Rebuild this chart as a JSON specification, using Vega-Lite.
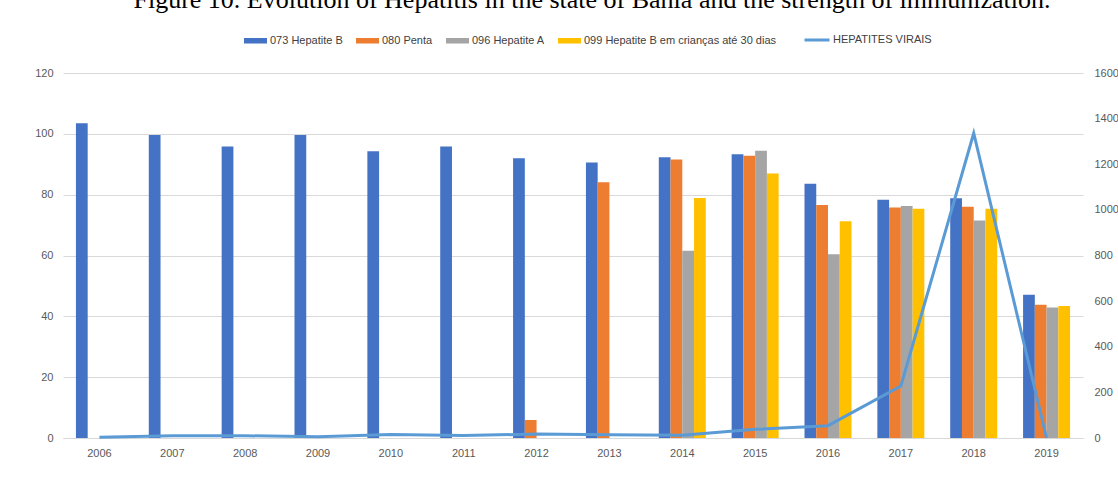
{
  "$schema": "https://vega.github.io/schema/vega-lite/v6.json",
  "width": 1020,
  "height": 365,
  "autosize": {"type": "none"},
  "padding": {"left": 63, "top": 73, "right": 35, "bottom": 47},
  "background": "white",
  "title": {
    "text": "Figure 10. Evolution of Hepatitis in the state of Bahia and the strength of immunization.",
    "font": "Liberation Serif",
    "fontSize": 26,
    "fontWeight": "normal",
    "color": "#000000",
    "anchor": "middle",
    "baseline": "alphabetic",
    "offset": -8,
    "dx": 19
  },
  "datasets": {
    "bars": [
      {"year": "2006", "series": "073 Hepatite B", "value": 103.5},
      {"year": "2007", "series": "073 Hepatite B", "value": 99.6},
      {"year": "2008", "series": "073 Hepatite B", "value": 95.8},
      {"year": "2009", "series": "073 Hepatite B", "value": 99.6},
      {"year": "2010", "series": "073 Hepatite B", "value": 94.3},
      {"year": "2011", "series": "073 Hepatite B", "value": 95.8},
      {"year": "2012", "series": "073 Hepatite B", "value": 92.0},
      {"year": "2012", "series": "080 Penta", "value": 5.9},
      {"year": "2013", "series": "073 Hepatite B", "value": 90.6},
      {"year": "2013", "series": "080 Penta", "value": 84.1},
      {"year": "2014", "series": "073 Hepatite B", "value": 92.3},
      {"year": "2014", "series": "080 Penta", "value": 91.6},
      {"year": "2014", "series": "096 Hepatite A", "value": 61.6},
      {"year": "2014", "series": "099 Hepatite B em crianças até 30 dias", "value": 78.9},
      {"year": "2015", "series": "073 Hepatite B", "value": 93.3},
      {"year": "2015", "series": "080 Penta", "value": 92.8},
      {"year": "2015", "series": "096 Hepatite A", "value": 94.4},
      {"year": "2015", "series": "099 Hepatite B em crianças até 30 dias", "value": 87.0},
      {"year": "2016", "series": "073 Hepatite B", "value": 83.6},
      {"year": "2016", "series": "080 Penta", "value": 76.6},
      {"year": "2016", "series": "096 Hepatite A", "value": 60.4},
      {"year": "2016", "series": "099 Hepatite B em crianças até 30 dias", "value": 71.3},
      {"year": "2017", "series": "073 Hepatite B", "value": 78.3},
      {"year": "2017", "series": "080 Penta", "value": 75.8},
      {"year": "2017", "series": "096 Hepatite A", "value": 76.3},
      {"year": "2017", "series": "099 Hepatite B em crianças até 30 dias", "value": 75.4},
      {"year": "2018", "series": "073 Hepatite B", "value": 78.8},
      {"year": "2018", "series": "080 Penta", "value": 76.0},
      {"year": "2018", "series": "096 Hepatite A", "value": 71.5},
      {"year": "2018", "series": "099 Hepatite B em crianças até 30 dias", "value": 75.4},
      {"year": "2019", "series": "073 Hepatite B", "value": 47.1},
      {"year": "2019", "series": "080 Penta", "value": 43.8},
      {"year": "2019", "series": "096 Hepatite A", "value": 42.9},
      {"year": "2019", "series": "099 Hepatite B em crianças até 30 dias", "value": 43.4}
    ],
    "line": [
      {"year": "2006", "cases": 3, "name": "HEPATITES VIRAIS"},
      {"year": "2007", "cases": 10, "name": "HEPATITES VIRAIS"},
      {"year": "2008", "cases": 10, "name": "HEPATITES VIRAIS"},
      {"year": "2009", "cases": 5, "name": "HEPATITES VIRAIS"},
      {"year": "2010", "cases": 15, "name": "HEPATITES VIRAIS"},
      {"year": "2011", "cases": 11, "name": "HEPATITES VIRAIS"},
      {"year": "2012", "cases": 17, "name": "HEPATITES VIRAIS"},
      {"year": "2013", "cases": 14, "name": "HEPATITES VIRAIS"},
      {"year": "2014", "cases": 12, "name": "HEPATITES VIRAIS"},
      {"year": "2015", "cases": 38, "name": "HEPATITES VIRAIS"},
      {"year": "2016", "cases": 54, "name": "HEPATITES VIRAIS"},
      {"year": "2017", "cases": 228, "name": "HEPATITES VIRAIS"},
      {"year": "2018", "cases": 1336, "name": "HEPATITES VIRAIS"},
      {"year": "2019", "cases": 0, "name": "HEPATITES VIRAIS"}
    ]
  },
  "encoding": {
    "x": {
      "field": "year",
      "type": "ordinal",
      "scale": {"paddingInner": 0.355, "paddingOuter": 0.1775},
      "axis": {
        "title": null,
        "labelAngle": 0,
        "ticks": false,
        "domainColor": "#d9d9d9",
        "labelPadding": 9,
        "labelFontSize": 11,
        "labelColor": "#595959",
        "labelFont": "Liberation Sans"
      }
    }
  },
  "layer": [
    {
      "data": {"name": "bars"},
      "mark": {"type": "bar", "strokeWidth": 0},
      "encoding": {
        "xOffset": {
          "field": "series",
          "type": "nominal",
          "scale": {"domain": ["073 Hepatite B", "080 Penta", "096 Hepatite A", "099 Hepatite B em crianças até 30 dias"], "paddingInner": 0, "paddingOuter": 0}
        },
        "y": {
          "field": "value",
          "type": "quantitative",
          "scale": {"domain": [0, 120], "nice": false},
          "axis": {
            "title": null,
            "values": [0, 20, 40, 60, 80, 100, 120],
            "ticks": false,
            "domain": false,
            "gridColor": "#d9d9d9",
            "gridWidth": 1,
            "labelPadding": 10,
            "labelFontSize": 11,
            "labelColor": "#595959",
            "labelFont": "Liberation Sans"
          }
        },
        "color": {
          "field": "series",
          "type": "nominal",
          "scale": {
            "domain": ["073 Hepatite B", "080 Penta", "096 Hepatite A", "099 Hepatite B em crianças até 30 dias"],
            "range": ["#4472C4", "#ED7D31", "#A5A5A5", "#FFC000"]
          },
          "legend": {
            "title": null,
            "orient": "none",
            "direction": "horizontal",
            "legendX": 181,
            "legendY": -44,
            "symbolType": "M-1,-0.24H1V0.24H-1Z",
            "symbolSize": 529,
            "symbolStrokeWidth": 0,
            "labelOffset": 3,
            "columnPadding": 13,
            "labelFontSize": 11,
            "labelColor": "#404040",
            "labelFont": "Liberation Sans",
            "labelLimit": 300
          }
        }
      }
    },
    {
      "data": {"name": "line"},
      "mark": {"type": "line", "strokeWidth": 3, "color": "#5B9BD5"},
      "encoding": {
        "y": {
          "field": "cases",
          "type": "quantitative",
          "scale": {"domain": [0, 1600], "nice": false},
          "axis": {
            "orient": "right",
            "title": null,
            "values": [0, 200, 400, 600, 800, 1000, 1200, 1400, 1600],
            "format": "d",
            "ticks": false,
            "domain": false,
            "grid": false,
            "labelPadding": 11,
            "labelFontSize": 11,
            "labelColor": "#595959",
            "labelFont": "Liberation Sans"
          }
        },
        "stroke": {
          "field": "name",
          "type": "nominal",
          "scale": {"domain": ["HEPATITES VIRAIS"], "range": ["#5B9BD5"]},
          "legend": {
            "title": null,
            "orient": "none",
            "direction": "horizontal",
            "legendX": 740,
            "legendY": -47,
            "symbolType": "stroke",
            "symbolSize": 625,
            "symbolStrokeWidth": 3,
            "labelOffset": 2,
            "labelFontSize": 11,
            "labelColor": "#404040",
            "labelFont": "Liberation Sans"
          }
        }
      }
    }
  ],
  "resolve": {"scale": {"y": "independent"}},
  "config": {
    "view": {"stroke": null}
  }
}
